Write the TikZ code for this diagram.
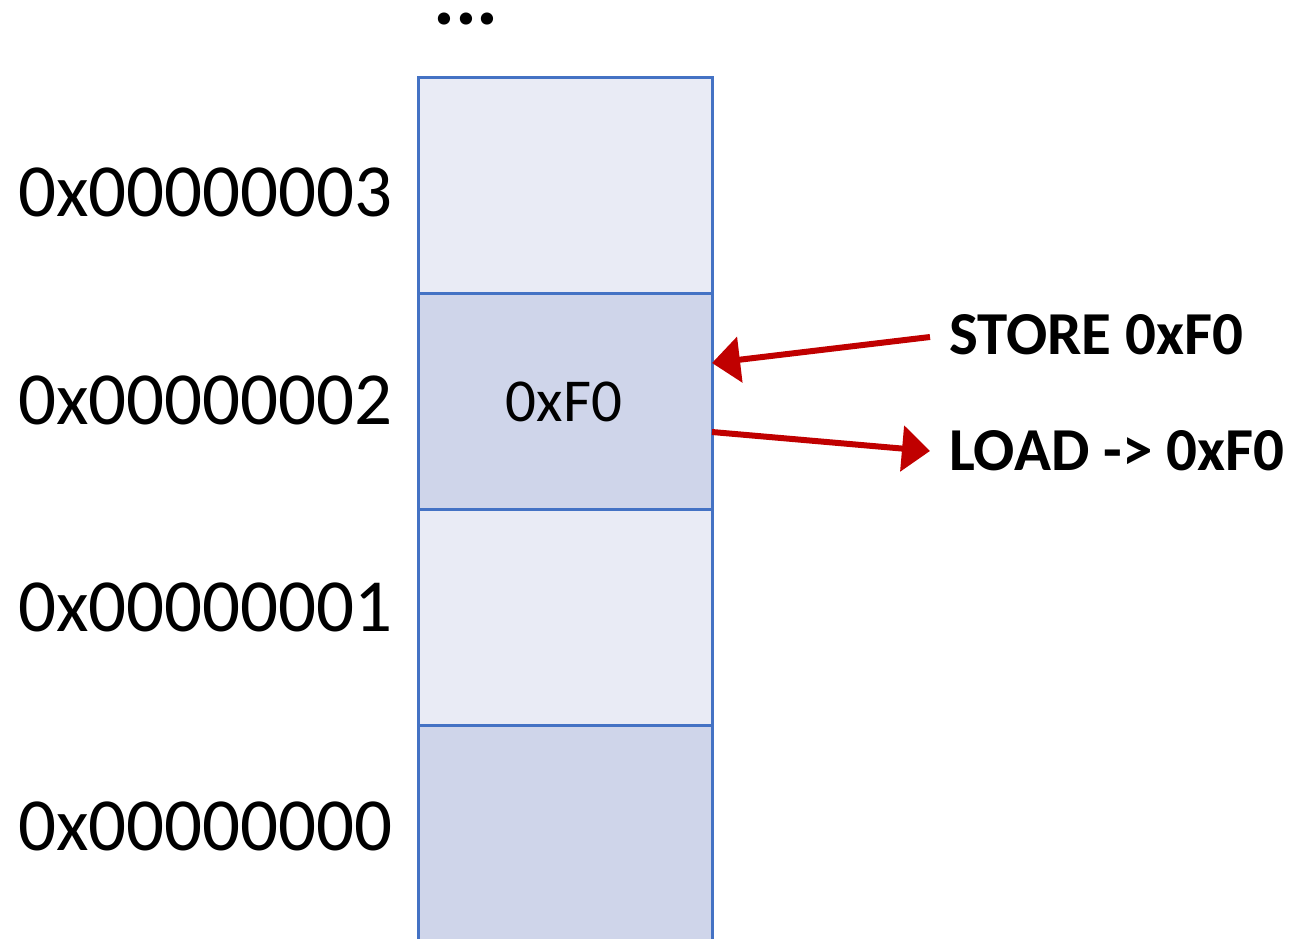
\documentclass[tikz,border=0pt]{standalone}
\usepackage{fontspec}
\setmainfont{Carlito}
\usetikzlibrary{arrows.meta}
\definecolor{cellborder}{HTML}{4472C4}
\definecolor{celllight}{HTML}{E9EBF5}
\definecolor{celldark}{HTML}{CFD5EA}
\definecolor{arrowred}{HTML}{C00000}
\tikzset{
  cell/.style={draw=cellborder, line width=2.8pt, minimum width=294pt, minimum height=216pt, inner sep=0pt, anchor=north west},
  addr/.style={anchor=west, inner sep=0pt, font=\fontsize{75}{80}\selectfont},
  op/.style={anchor=west, inner sep=0pt, font=\fontsize{61}{66}\selectfont\bfseries},
  flow/.style={draw=arrowred, line width=6pt, -{Triangle[length=28pt,width=45pt]}}
}
\begin{document}
\begin{tikzpicture}[x=1pt,y=-1pt]
  \useasboundingbox (0,0) rectangle (1306,939);
  \clip (0,0) rectangle (1306,939);
  % memory cells, top to bottom
  \node[cell, fill=celllight] (c3) at (417,76) {};
  \node[cell, fill=celldark]  (c2) at (417,292) {};
  \node[cell, fill=celllight] (c1) at (417,508) {};
  \node[cell, fill=celldark, minimum height=260pt] (c0) at (417,724) {};
  \node[font=\fontsize{61}{66}\selectfont] (val) at (564,402) {0xF0};
  % ellipsis above the column
  \node[anchor=base, inner sep=0pt, font=\fontsize{82}{86}\selectfont\bfseries] (dots) at (466,25) {...};
  % addresses
  \node[addr] (a3) at (18,192) {0x00000003};
  \node[addr] (a2) at (18,400) {0x00000002};
  \node[addr] (a1) at (18,607) {0x00000001};
  \node[addr] (a0) at (18,826) {0x00000000};
  % operations
  \node[op] (store) at (949,335) {STORE 0xF0};
  \node[op] (load) at (949,451) {LOAD -> 0xF0};
  \coordinate (storefrom) at (930,337);
  \coordinate (storeto) at (712,363);
  \coordinate (loadfrom) at (712,432);
  \coordinate (loadto) at (930,451);
  \draw[flow] (storefrom) -- (storeto);
  \draw[flow] (loadfrom) -- (loadto);
\end{tikzpicture}
\end{document}
